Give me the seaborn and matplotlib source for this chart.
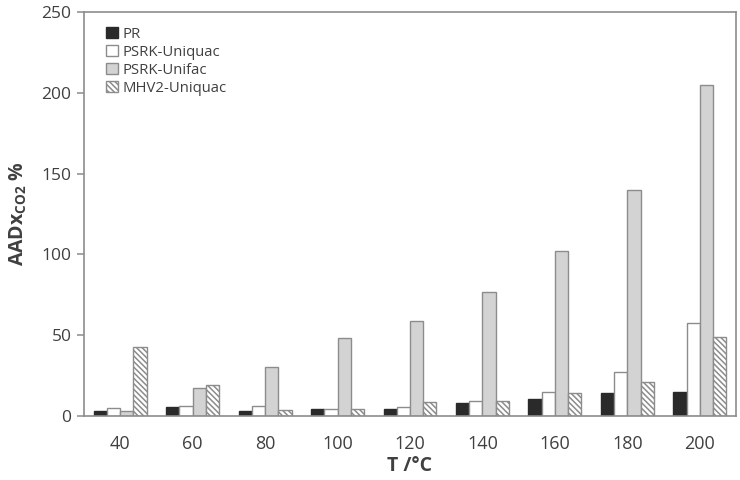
import numpy as np
import pandas as pd
import matplotlib
matplotlib.use("Agg")
from matplotlib import pyplot as plt
import seaborn as sns

# data
temps = ["40", "60", "80", "100", "120", "140", "160", "180", "200"]
models = ["PR", "PSRK-Uniquac", "PSRK-Unifac", "MHV2-Uniquac"]
pr = [2.9, 5.6, 3.0, 4.6, 4.1, 8.0, 10.3, 14.0, 15.0]
psrk_uniquac = [5.2, 6.2, 6.0, 4.6, 5.4, 9.3, 15.0, 27.0, 57.7]
psrk_unifac = [3.0, 17.2, 30.4, 48.0, 59.0, 77.0, 102.0, 140.0, 205.0]
mhv2_uniquac = [43.0, 19.2, 4.0, 4.6, 8.7, 9.3, 14.0, 21.0, 49.0]

df = pd.DataFrame({
    "T": temps * 4,
    "model": np.repeat(models, len(temps)),
    "AAD": pr + psrk_uniquac + psrk_unifac + mhv2_uniquac,
})

sns.set_style("white")
plt.rcParams["font.family"] = ["Open Sans", "DejaVu Sans"]
plt.rcParams["hatch.linewidth"] = 1.1
plt.rcParams["hatch.color"] = "#444444"

gray = "#8c8c8c"
txt = "#404040"
face = {"PR": "#2a2a2a", "PSRK-Uniquac": "white", "PSRK-Unifac": "#d3d3d3", "MHV2-Uniquac": "white"}

fig = plt.figure(figsize=(7.4, 4.8), dpi=100)
ax = fig.add_axes([0.1135, 0.1333, 0.8811, 0.8417])

sns.barplot(data=df, x="T", y="AAD", hue="model", order=temps, hue_order=models,
            palette=face, width=0.73, edgecolor=gray, linewidth=1.0,
            legend=False, ax=ax)

for cont, m in zip(ax.containers, models):
    for bar in cont:
        if m == "MHV2-Uniquac":
            bar.set_hatch("\\\\\\\\\\\\")
        if m == "PR":
            bar.set_edgecolor("#2a2a2a")
    cont.set_label(m)

ax.set_ylim(0, 250)
ax.set_xlim(-0.5, 8.5)
ax.set_yticks([0, 50, 100, 150, 200, 250])

ax.set_xticks(np.arange(0.5, 8, 1), minor=True)
ax.tick_params(axis="x", which="major", length=0, pad=14, labelsize=13, labelcolor=txt)
ax.tick_params(axis="x", which="minor", length=5, width=1.1, color=gray, direction="out")
ax.tick_params(axis="y", length=5, width=1.1, color=gray, direction="out", left=True,
               labelsize=12.5, labelcolor=txt, pad=4)

for s in ax.spines.values():
    s.set_color(gray)
    s.set_linewidth(1.2)

ax.set_xlabel("T /°C", fontsize=14, fontweight="bold", color=txt, labelpad=2)
ax.set_ylabel(r"AADx$_\mathregular{CO2}$ %", fontsize=14, fontweight="bold", color=txt, labelpad=9)

ax.legend(ax.containers, models, loc="upper left", bbox_to_anchor=(0.02, 0.985),
          frameon=False, fontsize=10.7, labelcolor=txt, handlelength=0.8, handleheight=0.8,
          handletextpad=0.3, labelspacing=0.2, borderaxespad=0.2)

fig.savefig("out.png", dpi=100)
